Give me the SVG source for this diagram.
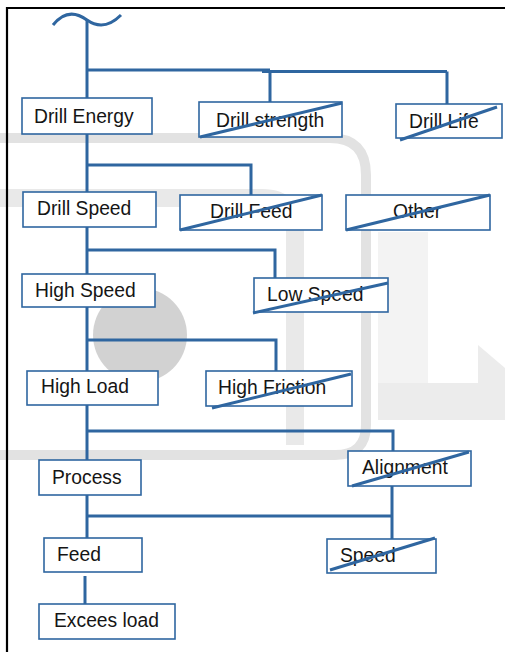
<svg xmlns="http://www.w3.org/2000/svg" width="505" height="652" viewBox="0 0 505 652">
<style>
.box{fill:#fff;stroke:#2f66a0;stroke-width:1.6}
.cross{stroke:#2f66a0;stroke-width:3;fill:none}
.conn{stroke:#2f66a0;stroke-width:3;fill:none;stroke-linecap:butt}
.t{font-family:"Liberation Sans",Arial,sans-serif;font-size:19.3px;fill:#151515}
.wm{fill:none}
</style>
<rect x="0" y="0" width="505" height="652" fill="#fff"/>
<g id="watermark">
<path class="wm" stroke="#e2e2e2" stroke-width="10" d="M0,138 H330 Q366,138 366,175 V425 Q366,455 335,455 H0"/>
<path class="wm" stroke="#e9e9e9" stroke-width="18" d="M0,198 H262 Q295,198 295,232 V445"/>
<circle cx="140" cy="335" r="47" fill="#d2d2d2"/>
<rect x="378" y="232" width="50" height="188" fill="#f3f3f3"/>
<polygon points="378,383 478,383 478,345 505,368 505,420 378,420" fill="#ececec"/>
</g>
<path d="M7,652 V8 H505" fill="none" stroke="#000" stroke-width="2.2"/>
<g id="connectors">
<path class="conn" d="M53,25 Q68,6 87,20 Q104,32 121,15"/>
<path class="conn" d="M87,20 V98"/>
<path class="conn" d="M87,70 H270 M262,71.5 H447 M270,70 V102 M447,71.5 V104"/>
<path class="conn" d="M87,134 V192"/>
<path class="conn" d="M87,165 H251 V195"/>
<path class="conn" d="M87,227 V274"/>
<path class="conn" d="M87,250 H275 V278"/>
<path class="conn" d="M87,307 V371"/>
<path class="conn" d="M87,340 H276 V372"/>
<path class="conn" d="M87,405 V460"/>
<path class="conn" d="M87,431 H393 V451"/>
<path class="conn" d="M87,495 V540"/>
<path class="conn" d="M87,516 H392 M392,486 V549"/>
<path class="conn" d="M85,576 V604"/>
</g>
<g id="drill-energy"><rect class="box" x="22" y="98" width="130" height="36"/><text class="t" x="34" y="123">Drill Energy</text></g>
<g id="drill-strength"><rect class="box" x="199" y="102" width="143" height="35"/><text class="t" x="216" y="127">Drill strength</text><line class="cross" x1="200" y1="137" x2="342" y2="103"/></g>
<g id="drill-life"><rect class="box" x="396" y="104" width="106" height="34"/><text class="t" x="409" y="128">Drill Life</text><line class="cross" x1="400" y1="140" x2="497" y2="107"/></g>
<g id="drill-speed"><rect class="box" x="23" y="192" width="133" height="35"/><text class="t" x="37" y="215">Drill Speed</text></g>
<g id="drill-feed"><rect class="box" x="180" y="195" width="142" height="35"/><text class="t" x="210" y="218">Drill Feed</text><line class="cross" x1="180" y1="230" x2="322" y2="195"/></g>
<g id="other"><rect class="box" x="346" y="195" width="144" height="35"/><text class="t" x="393" y="218">Other</text><line class="cross" x1="346" y1="230" x2="490" y2="195"/></g>
<g id="high-speed"><rect class="box" x="22" y="274" width="133" height="33"/><text class="t" x="35" y="297">High Speed</text></g>
<g id="low-speed"><rect class="box" x="254" y="278" width="134" height="34"/><text class="t" x="267" y="301">Low Speed</text><line class="cross" x1="253" y1="313" x2="388" y2="283"/></g>
<g id="high-load"><rect class="box" x="27" y="371" width="131" height="34"/><text class="t" x="41" y="393">High Load</text></g>
<g id="high-friction"><rect class="box" x="206" y="371" width="146" height="35"/><text class="t" x="218" y="394">High Friction</text><line class="cross" x1="212" y1="408" x2="351" y2="374"/></g>
<g id="process"><rect class="box" x="39" y="460" width="102" height="35"/><text class="t" x="52" y="484">Process</text></g>
<g id="alignment"><rect class="box" x="348" y="451" width="123" height="35"/><text class="t" x="362" y="474">Alignment</text><line class="cross" x1="352" y1="486" x2="469" y2="452"/></g>
<g id="feed"><rect class="box" x="44" y="538" width="98" height="34"/><text class="t" x="57" y="561">Feed</text></g>
<g id="speed"><rect class="box" x="327" y="539" width="109" height="34"/><text class="t" x="340" y="562">Speed</text><line class="cross" x1="330" y1="570" x2="435" y2="538"/></g>
<g id="excees-load"><rect class="box" x="39" y="604" width="136" height="35"/><text class="t" x="54" y="627">Excees load</text></g>
</svg>
